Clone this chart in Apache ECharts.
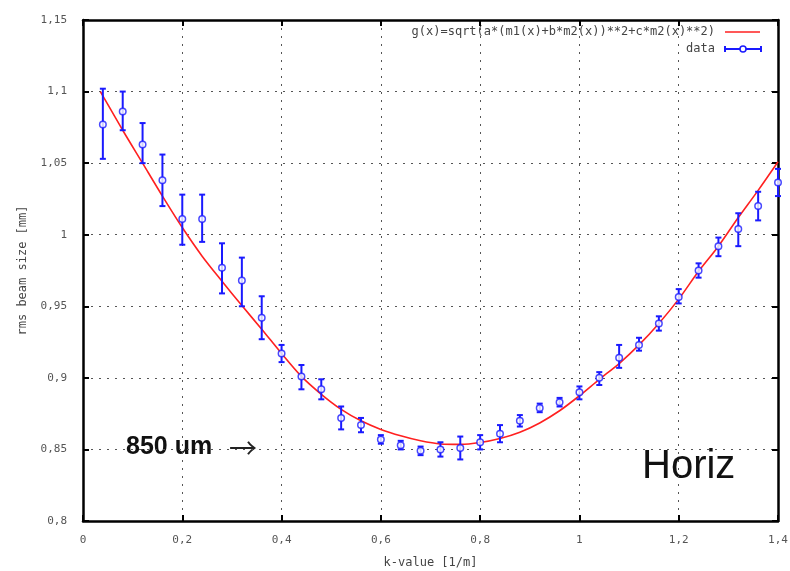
<!DOCTYPE html>
<html>
<head>
<meta charset="utf-8">
<script src="https://cdn.jsdelivr.net/npm/echarts@6/dist/echarts.min.js"></script>
<style>html,body{margin:0;padding:0;background:#fff}#c{width:790px;height:571px}</style>
</head>
<body>
<div id="c"></div>
<script>
// ---- data ----
const kValues = [0.04,0.08,0.12,0.16,0.20,0.24,0.28,0.32,0.36,0.40,0.44,0.48,0.52,0.56,0.60,0.64,0.68,0.72,0.76,0.80,0.84,0.88,0.92,0.96,1.00,1.04,1.08,1.12,1.16,1.20,1.24,1.28,1.32,1.36,1.40];
const rmsSize = [1.077,1.086,1.063,1.038,1.011,1.011,0.977,0.968,0.942,0.917,0.901,0.892,0.872,0.867,0.857,0.853,0.849,0.850,0.851,0.855,0.861,0.870,0.879,0.883,0.890,0.900,0.914,0.923,0.938,0.9565,0.975,0.992,1.004,1.020,1.0365];
const errLow  = [1.053,1.073,1.050,1.020,0.993,0.995,0.959,0.950,0.927,0.911,0.892,0.885,0.864,0.862,0.854,0.850,0.846,0.845,0.843,0.850,0.855,0.866,0.876,0.880,0.885,0.895,0.907,0.919,0.933,0.952,0.970,0.985,0.992,1.010,1.027];
const errHigh = [1.102,1.100,1.078,1.056,1.028,1.028,0.994,0.984,0.957,0.923,0.909,0.899,0.880,0.872,0.860,0.856,0.852,0.855,0.859,0.860,0.867,0.874,0.882,0.886,0.894,0.904,0.923,0.928,0.943,0.962,0.980,0.998,1.015,1.030,1.046];
const fitK   = [0.035,0.04,0.08,0.12,0.16,0.20,0.24,0.28,0.32,0.36,0.40,0.44,0.48,0.52,0.56,0.60,0.64,0.68,0.72,0.76,0.80,0.84,0.88,0.92,0.96,1.00,1.04,1.08,1.12,1.16,1.20,1.24,1.28,1.32,1.36,1.40];
const fitVal = [1.100,1.097,1.073,1.050,1.027,1.005,0.985,0.9675,0.9505,0.934,0.917,0.901,0.8885,0.878,0.870,0.864,0.8595,0.856,0.8538,0.8535,0.8548,0.8576,0.862,0.8685,0.877,0.8875,0.899,0.910,0.923,0.938,0.955,0.9745,0.992,1.012,1.031,1.051];
const xTicks = {min:0, max:1.4, step:0.2};
const yTicks = {min:0.8, max:1.15, step:0.05};
const fitLabel = 'g(x)=sqrt(a*(m1(x)+b*m2(x))**2+c*m2(x)**2)';
const dataLabel = 'data';
const xName = 'k-value [1/m]';
const yName = 'rms beam size [mm]';

const fmt = v => String(+v.toFixed(2)).replace('.', ',');
const mono = '"DejaVu Sans Mono", monospace';
const blue = '#1a1aff';

const chart = echarts.init(document.getElementById('c'), null, {renderer:'canvas'});
const errData = kValues.map((k,i)=>[k, errLow[i], errHigh[i]]);
const ptData = kValues.map((k,i)=>[k, rmsSize[i]]);
const fitData = fitK.map((k,i)=>[k, fitVal[i]]);

const baseAxisLine = {show:true, onZero:false, lineStyle:{color:'#000', width:2.5}};
const tick = {show:true, inside:true, length:6, lineStyle:{color:'#000', width:2}};

chart.setOption({
  animation:false,
  backgroundColor:'#fff',
  grid:{left:83, right:12, top:20, bottom:50, containLabel:false, outerBoundsMode:'none'},
  xAxis:[{
    type:'value', min:xTicks.min, max:xTicks.max, interval:xTicks.step,
    name:xName, nameLocation:'middle', nameGap:36,
    nameTextStyle:{fontFamily:mono, fontSize:12, color:'#444'},
    axisLine:baseAxisLine, axisTick:tick,
    axisLabel:{formatter:fmt, fontFamily:mono, fontSize:11, color:'#555', margin:14},
    splitLine:{show:true, lineStyle:{color:'#555', width:1, type:[2,6]}}
  },{
    type:'value', position:'top', min:xTicks.min, max:xTicks.max, interval:xTicks.step,
    axisLine:baseAxisLine, axisTick:tick, axisLabel:{show:false}, splitLine:{show:false}
  }],
  yAxis:[{
    type:'value', min:yTicks.min, max:yTicks.max, interval:yTicks.step,
    name:yName, nameLocation:'middle', nameGap:54, nameRotate:90,
    nameTextStyle:{fontFamily:mono, fontSize:12, color:'#444'},
    axisLine:baseAxisLine, axisTick:tick,
    axisLabel:{formatter:fmt, fontFamily:mono, fontSize:11, color:'#555', margin:16},
    splitLine:{show:true, lineStyle:{color:'#555', width:1, type:[2,6]}}
  },{
    type:'value', position:'right', min:yTicks.min, max:yTicks.max, interval:yTicks.step,
    axisLine:baseAxisLine, axisTick:tick, axisLabel:{show:false}, splitLine:{show:false}
  }],
  series:[
    {type:'line', name:fitLabel, data:fitData, smooth:0.3, symbol:'none',
     lineStyle:{color:'#ff2020', width:1.6}, z:2},
    {type:'custom', name:dataLabel, data:errData, z:3,
     renderItem:(params, api)=>{
       const x=api.value(0), lo=api.value(1), hi=api.value(2);
       const a=api.coord([x,lo]), b=api.coord([x,hi]);
       const w=3, st={stroke:blue, lineWidth:2};
       return {type:'group', children:[
         {type:'line', shape:{x1:a[0],y1:a[1],x2:b[0],y2:b[1]}, style:st},
         {type:'line', shape:{x1:a[0]-w,y1:a[1],x2:a[0]+w,y2:a[1]}, style:st},
         {type:'line', shape:{x1:b[0]-w,y1:b[1],x2:b[0]+w,y2:b[1]}, style:st}
       ]};
     }},
    {type:'scatter', data:ptData, symbol:'circle', symbolSize:6.5, z:4,
     itemStyle:{color:'#fff', borderColor:blue, borderWidth:1.5}}
  ],
  graphic:[
    {type:'text', x:715, y:32, style:{text:fitLabel, font:'12px '+mono, fill:'#444', align:'right', verticalAlign:'middle'}},
    {type:'line', shape:{x1:725,y1:32,x2:760,y2:32}, style:{stroke:'#ff2020', lineWidth:1.6}},
    {type:'text', x:715, y:49, style:{text:dataLabel, font:'12px '+mono, fill:'#444', align:'right', verticalAlign:'middle'}},
    {type:'line', shape:{x1:725,y1:49,x2:761,y2:49}, style:{stroke:blue, lineWidth:2}},
    {type:'line', shape:{x1:725,y1:46,x2:725,y2:52}, style:{stroke:blue, lineWidth:2}},
    {type:'line', shape:{x1:761,y1:46,x2:761,y2:52}, style:{stroke:blue, lineWidth:2}},
    {type:'circle', shape:{cx:743,cy:49,r:3}, style:{fill:'#fff', stroke:blue, lineWidth:1.5}},
    {type:'text', x:126, y:447, style:{text:'850 um', font:'bold 25px "Liberation Sans", Arial, sans-serif', fill:'#111', verticalAlign:'middle'}},
    {type:'text', x:229, y:448, style:{text:'\u2192', font:'28px "Noto Sans CJK JP", "DejaVu Sans", sans-serif', fill:'#222', verticalAlign:'middle'}},
    {type:'text', x:642, y:467, style:{text:'Horiz', font:'40px "Liberation Sans", Arial, sans-serif', fill:'#111', verticalAlign:'middle'}}
  ]
});
</script>
</body>
</html>
